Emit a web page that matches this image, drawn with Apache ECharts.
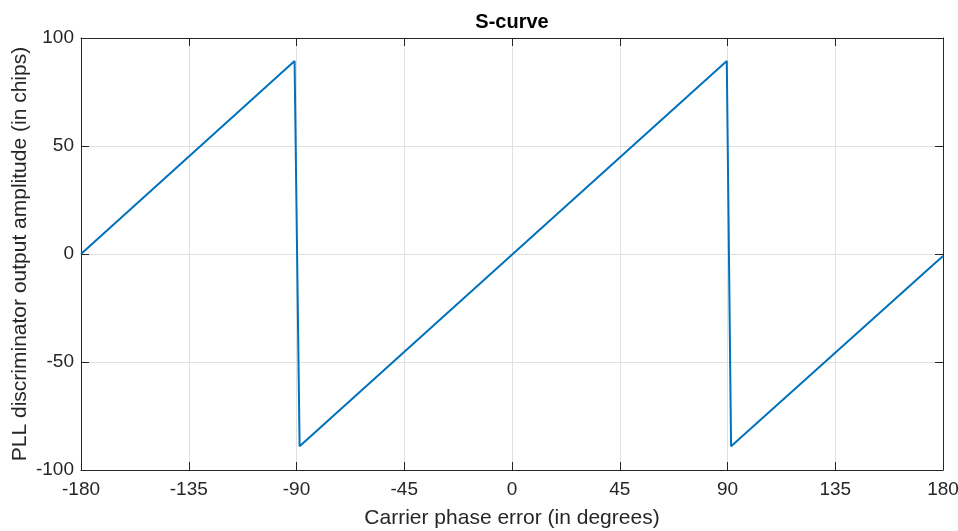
<!DOCTYPE html>
<html>
<head>
<meta charset="utf-8">
<script src="https://cdn.jsdelivr.net/npm/echarts@6/dist/echarts.min.js"></script>
<style>
html,body{margin:0;padding:0;background:#fff;}
#chart{width:958px;height:531px;}
</style>
</head>
<body>
<div id="chart"></div>
<script>
// Data (vertices of the polyline)
const phaseErrorDeg = [-180, -90.8, -88.7, 89.7, 91.5, 180];
const discriminatorOut = [0, 89.4, -89, 89.4, -89, -0.9];
const xTicks = [-180, -135, -90, -45, 0, 45, 90, 135, 180];
const yTicks = [-100, -50, 0, 50, 100];

const titleText = 'S-curve';
const xLabel = 'Carrier phase error (in degrees)';
const yLabel = 'PLL discriminator output amplitude (in chips)';

const font = "'Liberation Sans', Arial, Helvetica, sans-serif";
const axisColor = '#262626';
const gridColor = '#e0e0e0';

const seriesData = phaseErrorDeg.map((x, i) => [x, discriminatorOut[i]]);

const chart = echarts.init(document.getElementById('chart'), null, {renderer: 'canvas'});

function baseAxis(extra) {
  return Object.assign({
    type: 'value',
    axisLine: {show: true, onZero: false, lineStyle: {color: axisColor, width: 1}},
    axisTick: {show: true, inside: true, length: 8, lineStyle: {color: axisColor, width: 1}},
    splitLine: {show: false},
    axisLabel: {show: false}
  }, extra);
}

chart.setOption({
  animation: false,
  backgroundColor: '#ffffff',
  title: {
    text: titleText,
    left: 507,
    textAlign: 'center',
    top: 7,
    textStyle: {fontFamily: font, fontSize: 20, fontWeight: 'bold', color: '#000'}
  },
  grid: {left: 81, right: 15, top: 38, bottom: 61, containLabel: false, outerBoundsMode: 'none'},
  xAxis: [
    baseAxis({
      min: xTicks[0], max: xTicks[xTicks.length - 1], interval: 45,
      position: 'bottom',
      splitLine: {show: true, lineStyle: {color: gridColor, width: 1}},
      axisLabel: {show: true, color: axisColor, fontFamily: font, fontSize: 19, margin: 10},
      name: xLabel, nameLocation: 'middle', nameGap: 38,
      nameTextStyle: {fontFamily: font, fontSize: 21, color: axisColor}
    }),
    baseAxis({
      min: xTicks[0], max: xTicks[xTicks.length - 1], interval: 45,
      position: 'top'
    })
  ],
  yAxis: [
    baseAxis({
      min: yTicks[0], max: yTicks[yTicks.length - 1], interval: 50,
      position: 'left',
      splitLine: {show: true, lineStyle: {color: gridColor, width: 1}},
      axisLabel: {show: true, color: axisColor, fontFamily: font, fontSize: 19, margin: 7},
      name: yLabel, nameLocation: 'middle', nameGap: 50, nameMoveOverlap: false,
      nameTextStyle: {fontFamily: font, fontSize: 21, color: axisColor}
    }),
    baseAxis({
      min: yTicks[0], max: yTicks[yTicks.length - 1], interval: 50,
      position: 'right'
    })
  ],
  series: [{
    type: 'line',
    data: seriesData,
    xAxisIndex: 0,
    yAxisIndex: 0,
    showSymbol: false,
    symbol: 'none',
    lineStyle: {color: '#0072BD', width: 2},
    clip: true
  }]
});
</script>
</body>
</html>
